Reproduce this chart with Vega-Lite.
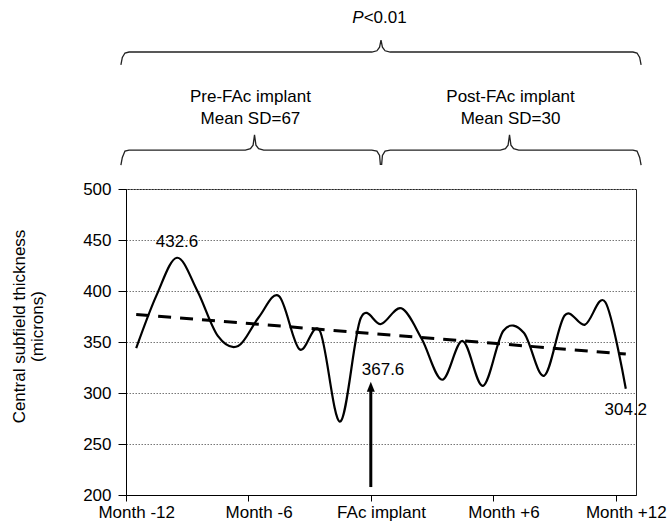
{
  "$schema": "https://vega.github.io/schema/vega-lite/v6.json",
  "width": 510,
  "height": 306,
  "autosize": {"type": "none"},
  "padding": {"left": 126, "top": 189, "right": 34, "bottom": 33},
  "background": "white",
  "config": {
    "view": {"stroke": "#222", "strokeWidth": 1},
    "font": "Liberation Sans",
    "text": {"font": "Liberation Sans", "fontSize": 17, "color": "#000"}
  },
  "datasets": {
    "series": [
      {"m": -12, "v": 344}, {"m": -11, "v": 396}, {"m": -10, "v": 432.6}, {"m": -9, "v": 400},
      {"m": -8, "v": 356}, {"m": -7, "v": 346}, {"m": -6, "v": 374}, {"m": -5, "v": 395},
      {"m": -4, "v": 343}, {"m": -3, "v": 361}, {"m": -2, "v": 272}, {"m": -1, "v": 373},
      {"m": 0, "v": 367.6}, {"m": 1, "v": 383}, {"m": 2, "v": 353}, {"m": 3, "v": 313},
      {"m": 4, "v": 351}, {"m": 5, "v": 307}, {"m": 6, "v": 361}, {"m": 7, "v": 359},
      {"m": 8, "v": 317}, {"m": 9, "v": 376}, {"m": 10, "v": 367}, {"m": 11, "v": 389},
      {"m": 12, "v": 304.2}
    ],
    "braces": [
      {"g": "top", "o": 1, "m": -12.75, "v": 621.6}, {"g": "top", "o": 2, "m": -12.68, "v": 629},
      {"g": "top", "o": 3, "m": -12.55, "v": 633.3}, {"g": "top", "o": 4, "m": -12.35, "v": 634.3},
      {"g": "top", "o": 5, "m": -0.45, "v": 634.3}, {"g": "top", "o": 6, "m": -0.2, "v": 635.5},
      {"g": "top", "o": 7, "m": -0.07, "v": 639}, {"g": "top", "o": 8, "m": 0, "v": 646},
      {"g": "top", "o": 9, "m": 0.07, "v": 639}, {"g": "top", "o": 10, "m": 0.2, "v": 635.5},
      {"g": "top", "o": 11, "m": 0.45, "v": 634.3}, {"g": "top", "o": 12, "m": 12.35, "v": 634.3},
      {"g": "top", "o": 13, "m": 12.55, "v": 633.3}, {"g": "top", "o": 14, "m": 12.68, "v": 629},
      {"g": "top", "o": 15, "m": 12.75, "v": 621.6},
      {"g": "pre", "o": 1, "m": -12.75, "v": 523.5}, {"g": "pre", "o": 2, "m": -12.68, "v": 531},
      {"g": "pre", "o": 3, "m": -12.55, "v": 537.2}, {"g": "pre", "o": 4, "m": -12.35, "v": 538.2},
      {"g": "pre", "o": 5, "m": -6.65, "v": 538.2}, {"g": "pre", "o": 6, "m": -6.4, "v": 539.5},
      {"g": "pre", "o": 7, "m": -6.27, "v": 543}, {"g": "pre", "o": 8, "m": -6.2, "v": 553},
      {"g": "pre", "o": 9, "m": -6.13, "v": 543}, {"g": "pre", "o": 10, "m": -6.0, "v": 539.5},
      {"g": "pre", "o": 11, "m": -5.75, "v": 538.2}, {"g": "pre", "o": 12, "m": -0.45, "v": 538.2},
      {"g": "pre", "o": 13, "m": -0.2, "v": 537.2}, {"g": "pre", "o": 14, "m": -0.07, "v": 533},
      {"g": "pre", "o": 15, "m": -0.03, "v": 523.5},
      {"g": "post", "o": 1, "m": 0.03, "v": 523.5}, {"g": "post", "o": 2, "m": 0.07, "v": 533},
      {"g": "post", "o": 3, "m": 0.2, "v": 537.2}, {"g": "post", "o": 4, "m": 0.45, "v": 538.2},
      {"g": "post", "o": 5, "m": 5.85, "v": 538.2}, {"g": "post", "o": 6, "m": 6.1, "v": 539.5},
      {"g": "post", "o": 7, "m": 6.23, "v": 543}, {"g": "post", "o": 8, "m": 6.3, "v": 553},
      {"g": "post", "o": 9, "m": 6.37, "v": 543}, {"g": "post", "o": 10, "m": 6.5, "v": 539.5},
      {"g": "post", "o": 11, "m": 6.75, "v": 538.2}, {"g": "post", "o": 12, "m": 12.35, "v": 538.2},
      {"g": "post", "o": 13, "m": 12.55, "v": 537.2}, {"g": "post", "o": 14, "m": 12.68, "v": 531},
      {"g": "post", "o": 15, "m": 12.75, "v": 523.5}
    ],
    "pointlabels": [
      {"m": -10, "v": 442.8, "label": "432.6"},
      {"m": 0.1, "v": 317.6, "label": "367.6"},
      {"m": 12, "v": 278.4, "label": "304.2"}
    ],
    "grouplabels": [
      {"m": -6.4, "v": 585.6, "label": "Pre-FAc implant"},
      {"m": -6.4, "v": 563.7, "label": "Mean SD=67"},
      {"m": 6.35, "v": 585.6, "label": "Post-FAc implant"},
      {"m": 6.35, "v": 563.7, "label": "Mean SD=30"}
    ],
    "ptext": [{"m": -0.85, "v": 662.5, "label": "P"}],
    "ptext2": [{"m": -0.85, "v": 662.5, "label": "<0.01"}],
    "arrow": [{"m": -0.5, "v": 207.8, "v2": 302}],
    "arrowhead": [{"m": -0.5, "v": 306.2}]
  },
  "layer": [
    {
      "data": {"name": "series"},
      "mark": {"type": "line", "interpolate": "cardinal", "color": "#000", "strokeWidth": 2.2},
      "encoding": {
        "x": {
          "field": "m", "type": "quantitative",
          "scale": {"domain": [-12.5, 12.5], "nice": false, "zero": false},
          "axis": {
            "title": null,
            "values": [-12.5, -6.5, -0.5, 5.5, 11.5],
            "labelExpr": "datum.value < -12 ? 'Month -12' : datum.value < -6 ? 'Month -6' : datum.value < 0 ? 'FAc implant' : datum.value < 6 ? 'Month +6' : 'Month +12'",
            "labelOffset": 10.2,
            "labelFlush": false,
            "labelOverlap": false,
            "grid": false,
            "tickSize": 6,
            "tickColor": "#000",
            "domainColor": "#000",
            "labelPadding": 3,
            "labelFont": "Liberation Sans",
            "labelFontSize": 17,
            "labelColor": "#000"
          }
        },
        "y": {
          "field": "v", "type": "quantitative",
          "scale": {"domain": [200, 500], "nice": false, "zero": false},
          "axis": {
            "title": ["Central subfield thickness", "(microns)"],
            "titleFont": "Liberation Sans",
            "titleFontSize": 17,
            "titleFontWeight": "normal",
            "titleColor": "#000",
            "titleLineHeight": 18,
            "titleX": -107,
            "titleY": 137,
            "titleAlign": "center",
            "titleBaseline": "middle",
            "titleAngle": -90,
            "values": [200, 250, 300, 350, 400, 450, 500],
            "grid": true,
            "gridDash": [1.5, 1.5],
            "gridColor": "#777",
            "gridWidth": 1,
            "tickSize": 8,
            "tickColor": "#000",
            "domainColor": "#000",
            "labelPadding": 7,
            "labelFont": "Liberation Sans",
            "labelFontSize": 17,
            "labelColor": "#000"
          }
        }
      }
    },
    {
      "data": {"name": "series"},
      "transform": [{"regression": "v", "on": "m", "extent": [-12, 12]}],
      "mark": {"type": "line", "color": "#000", "strokeWidth": 3, "strokeDash": [13, 9]},
      "encoding": {
        "x": {"field": "m", "type": "quantitative"},
        "y": {"field": "v", "type": "quantitative"}
      }
    },
    {
      "data": {"name": "arrow"},
      "mark": {"type": "rule", "color": "#000", "strokeWidth": 3},
      "encoding": {
        "x": {"field": "m", "type": "quantitative"},
        "y": {"field": "v", "type": "quantitative"},
        "y2": {"field": "v2"}
      }
    },
    {
      "data": {"name": "arrowhead"},
      "mark": {"type": "point", "shape": "M0,-1L-0.8,1L0.8,1Z", "filled": true, "color": "#000", "size": 100, "opacity": 1},
      "encoding": {
        "x": {"field": "m", "type": "quantitative"},
        "y": {"field": "v", "type": "quantitative"}
      }
    },
    {
      "data": {"name": "braces"},
      "mark": {"type": "line", "color": "#222", "strokeWidth": 1.3, "clip": false},
      "encoding": {
        "x": {"field": "m", "type": "quantitative"},
        "y": {"field": "v", "type": "quantitative"},
        "detail": {"field": "g"},
        "order": {"field": "o", "type": "quantitative"}
      }
    },
    {
      "data": {"name": "pointlabels"},
      "mark": {"type": "text", "align": "center", "baseline": "alphabetic"},
      "encoding": {
        "x": {"field": "m", "type": "quantitative"},
        "y": {"field": "v", "type": "quantitative"},
        "text": {"field": "label"}
      }
    },
    {
      "data": {"name": "grouplabels"},
      "mark": {"type": "text", "align": "center", "baseline": "alphabetic"},
      "encoding": {
        "x": {"field": "m", "type": "quantitative"},
        "y": {"field": "v", "type": "quantitative"},
        "text": {"field": "label"}
      }
    },
    {
      "data": {"name": "ptext"},
      "mark": {"type": "text", "align": "right", "baseline": "alphabetic", "fontStyle": "italic"},
      "encoding": {
        "x": {"field": "m", "type": "quantitative"},
        "y": {"field": "v", "type": "quantitative"},
        "text": {"field": "label"}
      }
    },
    {
      "data": {"name": "ptext2"},
      "mark": {"type": "text", "align": "left", "baseline": "alphabetic"},
      "encoding": {
        "x": {"field": "m", "type": "quantitative"},
        "y": {"field": "v", "type": "quantitative"},
        "text": {"field": "label"}
      }
    }
  ]
}
